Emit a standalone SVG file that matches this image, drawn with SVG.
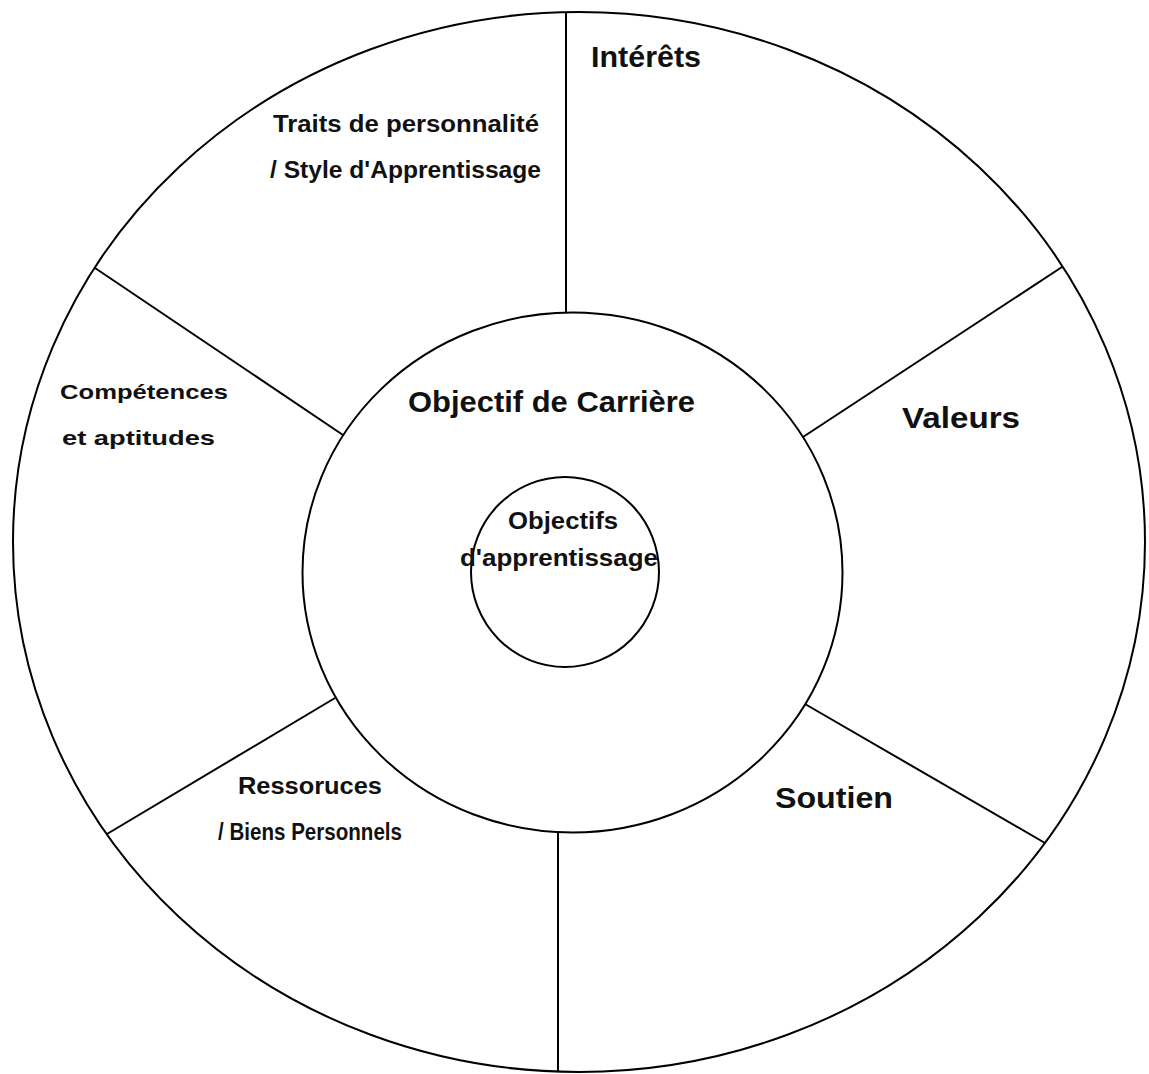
<svg xmlns="http://www.w3.org/2000/svg" width="1149" height="1074" viewBox="0 0 1149 1074">
<style>
.ring{fill:none;stroke:#000;stroke-width:2}
.div{stroke:#000;stroke-width:2;fill:none}
.t{font-family:"Liberation Sans",Arial,sans-serif;font-weight:bold;fill:#111}
.big{font-size:30px}
.small{font-size:21px}
.tall{font-size:23px}
</style>
<rect x="0" y="0" width="1149" height="1074" fill="#fff"/>
<g id="outer-ring">
<ellipse class="ring" cx="579" cy="542" rx="566" ry="530"/>
</g>
<g id="career-goal">
<ellipse class="ring" cx="572.5" cy="572.5" rx="270" ry="260"/>
<text class="t big" x="408" y="412" textLength="287" lengthAdjust="spacingAndGlyphs">Objectif de Carrière</text>
</g>
<g id="learning-goals">
<ellipse class="ring" cx="565" cy="572" rx="94" ry="95"/>
<text class="t tall" x="563" y="529" text-anchor="middle" textLength="110" lengthAdjust="spacingAndGlyphs">Objectifs</text>
<text class="t tall" x="559" y="566" text-anchor="middle" textLength="198" lengthAdjust="spacingAndGlyphs">d'apprentissage</text>
</g>
<g id="connectors">
<line class="div" x1="566" y1="12" x2="566" y2="313"/>
<line class="div" x1="95" y1="268" x2="343" y2="435"/>
<line class="div" x1="1062" y1="267" x2="803" y2="437"/>
<line class="div" x1="805" y1="704" x2="1045" y2="843"/>
<line class="div" x1="335" y1="698" x2="107" y2="834"/>
<line class="div" x1="558" y1="832" x2="558" y2="1072"/>
</g>
<g id="interets">
<text class="t big" x="591" y="67" textLength="110" lengthAdjust="spacingAndGlyphs">Intérêts</text>
</g>
<g id="traits">
<text class="t tall" x="273" y="132" textLength="266" lengthAdjust="spacingAndGlyphs">Traits de personnalité</text>
<text class="t tall" x="270" y="178" textLength="271" lengthAdjust="spacingAndGlyphs">/ Style d'Apprentissage</text>
</g>
<g id="competences">
<text class="t small" x="60" y="399" textLength="168" lengthAdjust="spacingAndGlyphs">Compétences</text>
<text class="t small" x="62" y="445" textLength="153" lengthAdjust="spacingAndGlyphs">et aptitudes</text>
</g>
<g id="valeurs">
<text class="t big" x="902" y="428" textLength="118" lengthAdjust="spacingAndGlyphs">Valeurs</text>
</g>
<g id="soutien">
<text class="t big" x="775" y="808" textLength="118" lengthAdjust="spacingAndGlyphs">Soutien</text>
</g>
<g id="ressources">
<text class="t tall" x="238" y="794" textLength="144" lengthAdjust="spacingAndGlyphs">Ressoruces</text>
<text class="t tall" x="218" y="840" textLength="184" lengthAdjust="spacingAndGlyphs">/ Biens Personnels</text>
</g>
</svg>
